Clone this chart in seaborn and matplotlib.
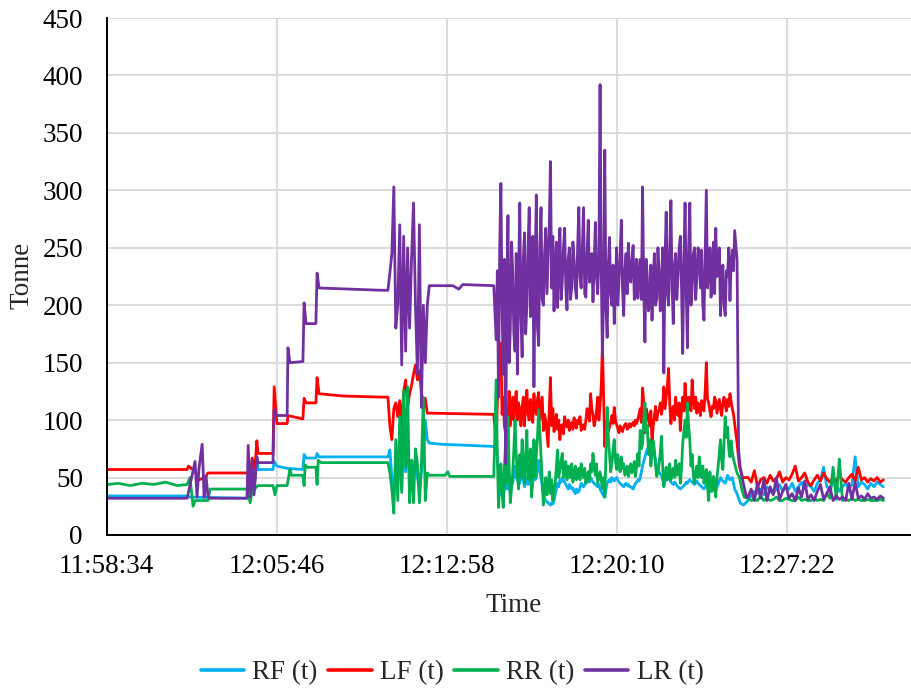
import numpy as np
import pandas as pd
import seaborn as sns
import matplotlib.pyplot as plt

# Time axis: seconds elapsed since 11:58:34
tick_secs = [0, 432, 864, 1296, 1728]
tick_labels = ["11:58:34", "12:05:46", "12:12:58", "12:20:10", "12:27:22"]
y_ticks = [0, 50, 100, 150, 200, 250, 300, 350, 400, 450]

series_names = ["RF (t)", "LF (t)", "RR (t)", "LR (t)"]
series_colors = ["#00B0F0", "#FF0000", "#00B050", "#7030A0"]

# sampling clocks of the logger during the busy phases
clock_a = list(range(715, 821, 5))
clock_b = list(range(990, 1597, 3))
clock_c = list(range(1630, 1975, 8))

# ---------------- RF (t) ----------------
rf_early_t = [4, 205, 212, 360, 370, 377, 382, 385, 423, 426, 433, 459, 499, 502, 507, 532, 535, 540, 700]
rf_early_v = [34, 34, 33, 32, 40, 48, 68, 57, 57, 64, 60, 58, 57, 70, 67, 67, 71, 68, 68]
rf_a = [68, 74, 50, 35, 60, 45, 70, 40, 80, 55, 90, 40, 65, 60, 65, 50, 40, 55, 70, 100, 83, 80]
rf_hold_t = [850, 984]
rf_hold_v = [79, 77]
rf_b = [77, 65, 55, 35, 45, 38, 30, 42, 48, 40,
        55, 45, 35, 50, 45, 52, 60, 50, 48, 52,
        45, 50, 55, 48, 42, 46, 50, 44, 47, 52,
        38, 45, 55, 48, 50, 58, 65, 55, 50, 42,
        35, 32, 30, 29, 28, 27, 26, 28, 27, 30,
        35, 40, 45, 42, 48, 46, 50, 48, 46, 44,
        42, 40, 44, 42, 40, 41, 38, 36, 40, 37,
        38, 41, 45, 43, 42, 44, 45, 47, 48, 46,
        50, 48, 46, 45, 44, 43, 42, 44, 40, 38,
        36, 34, 33, 40, 45, 47, 48, 46, 50, 48,
        47, 49, 50, 48, 46, 45, 44, 43, 42, 44,
        45, 43, 44, 42, 42, 41, 40, 43, 45, 46,
        48, 47, 50, 55, 60, 64, 68, 72, 75, 76,
        77, 74, 72, 71, 70, 65, 60, 58, 55, 53,
        52, 48, 45, 47, 48, 49, 50, 48, 46, 45,
        44, 46, 45, 43, 42, 41, 40, 41, 42, 43,
        44, 46, 45, 47, 48, 47, 46, 45, 44, 46,
        47, 45, 44, 43, 42, 41, 40, 42, 44, 42,
        40, 39, 38, 40, 42, 41, 40, 42, 44, 47,
        50, 48, 47, 46, 45, 48, 52, 50, 48, 49,
        50, 45, 40]
rf_drop_t = [1602, 1610, 1618]
rf_drop_v = [36, 28, 26]
rf_c = [30, 34, 38, 36, 40, 35, 42, 38, 36, 40, 44, 38, 42, 40, 45, 38, 42, 46, 40, 44,
        42, 38, 45, 48, 59, 42, 40, 46, 44, 38, 42, 45, 40, 44, 68, 42, 46, 44, 40, 45,
        42, 46, 44, 42]

# ---------------- LF (t) ----------------
lf_early_t = [4, 205, 208, 215, 225, 235, 250, 258, 357, 365, 370, 377, 382, 385, 423, 426,
              430, 433, 459, 461, 499, 502, 507, 532, 535, 540, 600, 700]
lf_early_v = [57, 57, 60, 58, 56, 48, 50, 54, 54, 50, 67, 58, 82, 71, 71, 129,
              110, 97, 97, 104, 101, 119, 115, 115, 137, 123, 121, 120]
lf_a = [120, 95, 83, 110, 115, 103, 117, 94, 125, 135, 111, 123, 130, 140, 148, 135, 143, 125,
        111, 119, 106, 106]
lf_hold_t = [830, 984]
lf_hold_v = [106, 105]
lf_b = [80, 115, 140, 150, 167, 105, 120, 95, 88, 110,
        103, 125, 95, 108, 120, 100, 117, 125, 100, 115,
        108, 95, 111, 120, 95, 115, 126, 105, 100, 118,
        112, 98, 123, 110, 105, 118, 124, 100, 110, 120,
        91, 105, 100, 88, 77, 110, 137, 95, 110, 90,
        98, 105, 92, 100, 83, 95, 96, 88, 103, 97,
        94, 100, 91, 96, 98, 92, 102, 96, 93, 100,
        97, 103, 91, 95, 96, 92, 100, 110, 106, 99,
        123, 110, 104, 95, 100, 108, 120, 100, 112, 130,
        165, 120, 77, 92, 100, 90, 94, 98, 104, 97,
        111, 100, 96, 93, 89, 95, 92, 90, 94, 96,
        97, 92, 93, 97, 94, 96, 98, 95, 100, 97,
        101, 105, 110, 98, 128, 115, 89, 110, 106, 100,
        95, 108, 80, 95, 103, 112, 100, 106, 109, 115,
        105, 112, 129, 110, 120, 130, 145, 115, 97, 108,
        112, 100, 120, 108, 104, 115, 91, 110, 120, 108,
        132, 112, 106, 120, 118, 108, 135, 118, 110, 120,
        106, 115, 112, 104, 117, 110, 108, 125, 150, 118,
        115, 108, 103, 112, 110, 120, 117, 106, 112, 118,
        109, 104, 115, 120, 113, 108, 118, 112, 123, 116,
        110, 105, 97]
lf_drop_t = [1602, 1608, 1616]
lf_drop_v = [80, 60, 50]
lf_c = [50, 46, 56, 42, 48, 50, 45, 52, 47, 49, 55, 46, 50, 48, 53, 60, 47, 50, 54, 46,
        43, 48, 52, 47, 54, 49, 46, 50, 47, 52, 48, 46, 50, 53, 47, 59, 48, 50, 46, 49,
        47, 50, 46, 48]

# ---------------- RR (t) ----------------
rr_early_t = [4, 30, 60, 90, 120, 150, 180, 205, 212, 220, 225, 258, 263, 357, 365, 370, 382,
              385, 423, 428, 433, 459, 466, 470, 499, 502, 505, 510, 532, 535, 538, 545, 700]
rr_early_v = [44, 45, 43, 45, 44, 46, 43, 44, 50, 25, 30, 30, 40, 40, 28, 38, 42,
              43, 43, 35, 43, 43, 57, 52, 52, 43, 61, 59, 59, 44, 65, 63, 63]
rr_a = [63, 54, 40, 19, 83, 30, 103, 37, 126, 59, 129, 28, 65, 28, 75, 62, 28, 60, 120, 30, 54, 52]
rr_hold_t = [830, 860, 867, 872, 984]
rr_hold_v = [52, 52, 55, 51, 51]
rr_b = [135, 70, 24, 45, 62, 40, 24, 60, 80, 45,
        103, 60, 28, 40, 54, 75, 100, 70, 51, 40,
        70, 50, 83, 60, 45, 70, 91, 48, 60, 75,
        33, 55, 83, 50, 70, 85, 109, 90, 68, 45,
        26, 38, 50, 35, 42, 55, 36, 48, 30, 40,
        45, 60, 74, 50, 57, 65, 71, 50, 55, 64,
        48, 60, 58, 50, 62, 46, 52, 60, 48, 55,
        58, 48, 62, 55, 50, 58, 45, 52, 55, 48,
        62, 55, 71, 60, 52, 62, 45, 50, 55, 48,
        40, 50, 33, 70, 111, 85, 70, 55, 62, 75,
        83, 65, 57, 70, 60, 55, 68, 58, 62, 52,
        54, 60, 51, 56, 62, 54, 58, 64, 51, 60,
        71, 60, 91, 75, 80, 100, 115, 90, 95, 70,
        83, 60, 70, 82, 74, 60, 51, 55, 62, 72,
        86, 60, 42, 50, 59, 48, 52, 62, 48, 55,
        58, 50, 65, 52, 55, 62, 45, 58, 80, 90,
        100, 85, 115, 95, 83, 60, 70, 52, 45, 55,
        60, 50, 68, 58, 50, 60, 45, 52, 57, 42,
        30, 55, 45, 38, 51, 45, 33, 50, 60, 72,
        83, 65, 57, 80, 103, 85, 94, 75, 68, 82,
        72, 66, 62]
rr_drop_t = [1602, 1608, 1614, 1620]
rr_drop_v = [54, 50, 40, 33]
rr_c = [32, 30, 31, 30, 34, 30, 32, 30, 31, 33, 30, 30, 32, 31, 30, 30, 33, 30, 31, 30,
        30, 32, 30, 31, 30, 36, 32, 59, 31, 66, 30, 31, 30, 32, 30, 31, 30, 30, 31, 30,
        30, 30, 31, 30]

# ---------------- LR (t) ----------------
lr_early_t = [4, 205, 225, 230, 235, 243, 248, 253, 258, 263, 357, 360, 365, 370, 375, 382,
              385, 423, 426, 433, 459, 461, 466, 499, 502, 507, 532, 535, 540, 700]
lr_early_v = [32, 32, 64, 33, 58, 79, 33, 51, 33, 32, 32, 78, 33, 65, 35, 68,
              63, 63, 109, 104, 104, 163, 150, 151, 202, 184, 184, 228, 215, 213]
lr_a = [213, 228, 245, 303, 180, 200, 270, 148, 260, 160, 250, 180, 240, 289, 200, 140, 270,
        111, 200, 150, 200, 217]
lr_hold_t = [880, 895, 905, 984]
lr_hold_v = [217, 214, 218, 217]
lr_b = [170, 230, 120, 250, 306, 200, 140, 240, 62, 210,
        278, 150, 180, 255, 230, 175, 160, 245, 140, 225,
        289, 190, 155, 240, 263, 175, 200, 250, 285, 190,
        220, 260, 129, 230, 296, 180, 165, 250, 285, 205,
        200, 245, 267, 210, 239, 270, 325, 215, 260, 195,
        230, 255, 198, 240, 267, 205, 220, 250, 267, 215,
        196, 240, 250, 205, 215, 255, 240, 215, 206, 250,
        285, 225, 215, 250, 285, 210, 207, 245, 274, 220,
        225, 245, 203, 235, 272, 225, 210, 240, 392, 230,
        155, 210, 335, 200, 172, 235, 259, 210, 200, 235,
        184, 215, 250, 200, 220, 245, 274, 215, 191, 230,
        245, 210, 254, 225, 220, 240, 252, 205, 215, 240,
        206, 225, 240, 205, 303, 215, 168, 240, 225, 195,
        200, 235, 187, 220, 245, 200, 205, 250, 230, 195,
        215, 250, 141, 240, 281, 210, 200, 250, 291, 215,
        184, 235, 245, 205, 225, 250, 260, 215, 158, 240,
        289, 210, 163, 250, 289, 200, 215, 245, 250, 205,
        225, 250, 240, 215, 248, 200, 187, 245, 300, 215,
        230, 250, 207, 235, 255, 210, 267, 225, 230, 250,
        191, 220, 235, 200, 191, 230, 225, 250, 204, 235,
        248, 230, 265]
lr_drop_t = [1602, 1606, 1610, 1618, 1626]
lr_drop_v = [240, 74, 59, 45, 33]
lr_c = [33, 40, 30, 45, 32, 48, 30, 42, 35, 50, 31, 38, 44, 32, 36, 30, 41, 33, 47, 31,
        35, 30, 38, 44, 31, 36, 42, 30, 34, 31, 33, 30, 45, 31, 46, 32, 34, 31, 36, 32,
        33, 31, 34, 32]


def assemble(name, early_t, early_v, a, hold_t, hold_v, b, drop_t, drop_v, c):
    t = early_t + clock_a + hold_t + clock_b + drop_t + clock_c
    v = early_v + a + hold_v + b + drop_v + c
    return pd.DataFrame({"Time": t, "Tonne": v, "series": name})


frames = [
    assemble("RF (t)", rf_early_t, rf_early_v, rf_a, rf_hold_t, rf_hold_v, rf_b, rf_drop_t, rf_drop_v, rf_c),
    assemble("LF (t)", lf_early_t, lf_early_v, lf_a, lf_hold_t, lf_hold_v, lf_b, lf_drop_t, lf_drop_v, lf_c),
    assemble("RR (t)", rr_early_t, rr_early_v, rr_a, rr_hold_t, rr_hold_v, rr_b, rr_drop_t, rr_drop_v, rr_c),
    assemble("LR (t)", lr_early_t, lr_early_v, lr_a, lr_hold_t, lr_hold_v, lr_b, lr_drop_t, lr_drop_v, lr_c),
]
df = pd.concat(frames, ignore_index=True)

sns.set_style("white")
plt.rcParams["font.family"] = ["Liberation Serif", "DejaVu Serif"]

W, H = 911, 688
FS = 19.5
fig = plt.figure(figsize=(W / 100, H / 100), dpi=100)
ax = fig.add_axes([106.5 / W, 153 / H, (W - 106.5) / W, 517 / H])

sns.lineplot(data=df, x="Time", y="Tonne", hue="series", hue_order=series_names,
             palette=dict(zip(series_names, series_colors)), estimator=None, sort=False,
             linewidth=2.0, ax=ax)

ax.set_xlim(0, 2044)
ax.set_ylim(0, 450)
ax.set_xticks(tick_secs)
ax.set_xticklabels(tick_labels)
ax.set_yticks(y_ticks)
ax.grid(True, color="#D9D9D9", linewidth=1.3)
ax.set_axisbelow(True)
for side in ["top", "right"]:
    ax.spines[side].set_visible(False)
for side in ["left", "bottom"]:
    ax.spines[side].set_color("black")
    ax.spines[side].set_linewidth(1.4)
ax.tick_params(axis="both", length=0, labelsize=FS, colors="black")
ax.tick_params(axis="y", pad=17)
ax.tick_params(axis="x", pad=14)

ax.set_xlabel("")
ax.set_ylabel("")
fig.text(514 / W, 1 - 605 / H, "Time", fontsize=FS, ha="center", va="center")
fig.text(22 / W, 1 - 275 / H, "Tonne", fontsize=FS, ha="center", va="center", rotation=90)

ax.legend_.remove()
handles = [plt.Line2D([], [], color=c, linewidth=2.6) for c in series_colors]
fig.legend(handles, series_names, loc="center", bbox_to_anchor=(452 / W, 0.022), ncol=4,
           frameon=False, fontsize=FS, handlelength=1.6, handletextpad=0.3, columnspacing=0.4)

fig.savefig("out.png", dpi=100)
